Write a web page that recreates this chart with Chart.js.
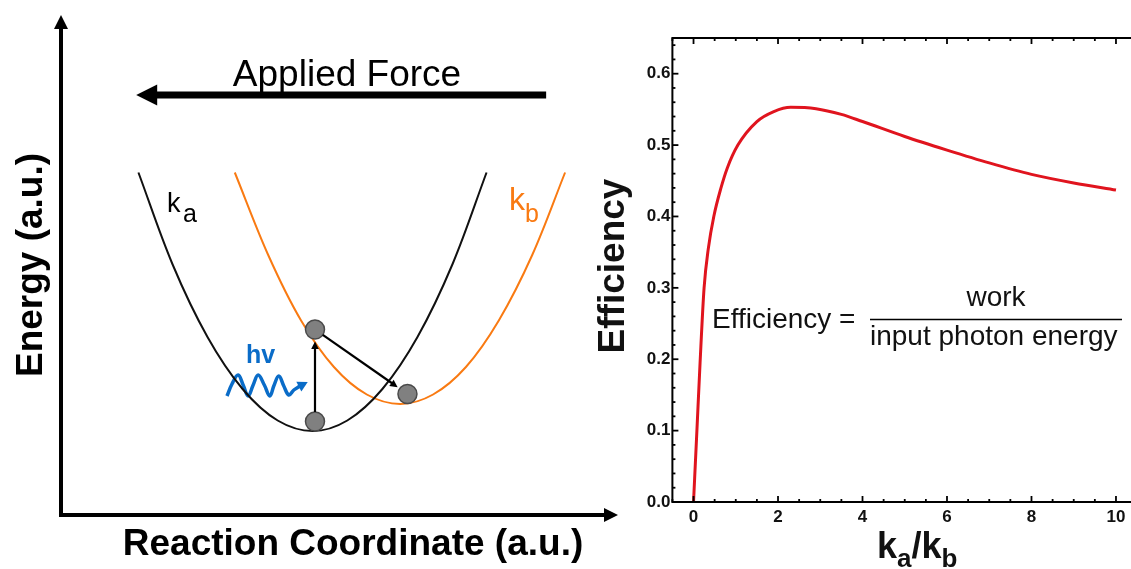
<!DOCTYPE html>
<html>
<head>
<meta charset="utf-8">
<script src="https://cdn.jsdelivr.net/npm/chart.js@4.4.1/dist/chart.umd.min.js"></script>
<style>
html,body{margin:0;padding:0;background:#fff;overflow:hidden;width:1131px;height:569px;}
#left{position:absolute;left:0;top:0;}
#right{position:absolute;left:580px;top:0;}
</style>
</head>
<body>
<canvas id="left" width="630" height="569"></canvas>
<canvas id="right" width="570" height="569"></canvas>
<script>
// ================= DATA =================
// Right panel: efficiency vs ka/kb
const ratioKaKb  = [0, 0.08, 0.155, 0.25, 0.35, 0.48, 0.65, 0.8, 1.05, 1.5, 1.9, 2.3, 2.9, 3.5, 4.0, 5.0, 6.0, 7.0, 8.0, 9.0, 10.0];
const efficiency = [0, 0.10, 0.195, 0.30, 0.355, 0.40, 0.44, 0.468, 0.50, 0.533, 0.547, 0.553, 0.551, 0.543, 0.533, 0.512, 0.493, 0.475, 0.459, 0.447, 0.437];
const xTicks = [0, 2, 4, 6, 8, 10];
const yTicks = [0, 0.1, 0.2, 0.3, 0.4, 0.5, 0.6];
const xTickLabels = ['0', '2', '4', '6', '8', '10'];
const yTickLabels = ['0.0', '0.1', '0.2', '0.3', '0.4', '0.5', '0.6'];
const xMinorStep = 0.5;
const yMinorStep = 0.02;

// Left panel (schematic, arbitrary units)
const kaX = [1.39, 2.00, 2.63, 3.26, 3.89, 4.52, 5.14, 5.77, 6.40, 7.03, 7.64];
const kaY = [6.85, 5.02, 3.56, 2.52, 1.89, 1.68, 1.89, 2.52, 3.56, 5.02, 6.85];
const kbX = [3.12, 3.72, 4.31, 4.90, 5.49, 6.09, 6.68, 7.27, 7.86, 8.46, 9.05];
const kbY = [6.85, 5.20, 3.89, 2.96, 2.41, 2.22, 2.41, 2.96, 3.89, 5.20, 6.85];
const photonX = [2.98, 3.07, 3.18, 3.27, 3.36, 3.45, 3.54, 3.65, 3.75, 3.82, 3.91, 4.00, 4.09, 4.18, 4.29, 4.43];
const photonY = [2.38, 2.62, 2.80, 2.60, 2.38, 2.60, 2.80, 2.60, 2.38, 2.58, 2.78, 2.58, 2.40, 2.50, 2.58, 2.66];
const stateX = [4.56, 4.56, 6.22];
const stateY = [1.87, 3.71, 2.42];
const transitionFrom = [0, 1];
const transitionTo   = [1, 2];
const forceArrow = { fromX: 8.71, toX: 1.35, y: 8.4 };

// ================= HELPERS =================
const FONT = '"Liberation Sans", Arial, Helvetica, sans-serif';
function pts(xs, ys) { return xs.map((x, i) => ({ x: x, y: ys[i] })); }
function arrowHead(ctx, x1, y1, x2, y2, len, half) {
  const a = Math.atan2(y2 - y1, x2 - x1);
  const c = Math.cos(a), s = Math.sin(a);
  ctx.beginPath();
  ctx.moveTo(x2, y2);
  ctx.lineTo(x2 - len * c + half * s, y2 - len * s - half * c);
  ctx.lineTo(x2 - len * c - half * s, y2 - len * s + half * c);
  ctx.closePath();
  ctx.fill();
}
function seg(ctx, x1, y1, x2, y2) {
  ctx.beginPath(); ctx.moveTo(x1, y1); ctx.lineTo(x2, y2); ctx.stroke();
}

// ================= LEFT PANEL =================
const leftDecor = {
  id: 'leftDecor',
  afterDatasetsDraw(chart) {
    const { ctx, chartArea: ca, scales: { x, y } } = chart;
    ctx.save();
    ctx.strokeStyle = '#000'; ctx.fillStyle = '#000'; ctx.lineCap = 'butt';
    // axes with arrows
    ctx.lineWidth = 4;
    seg(ctx, ca.left, ca.bottom + 2, ca.left, ca.top + 12);
    arrowHead(ctx, ca.left, ca.bottom, ca.left, ca.top, 14, 7);
    seg(ctx, ca.left - 2, ca.bottom, ca.right - 12, ca.bottom);
    arrowHead(ctx, ca.left, ca.bottom, ca.right, ca.bottom, 14, 7);
    // applied force arrow
    const fy = y.getPixelForValue(forceArrow.y);
    const fx1 = x.getPixelForValue(forceArrow.fromX);
    const fx2 = x.getPixelForValue(forceArrow.toX);
    ctx.lineWidth = 7;
    seg(ctx, fx1, fy, fx2 + 18, fy);
    arrowHead(ctx, fx1, fy, fx2, fy, 21, 10.5);
    // transitions between states
    ctx.lineWidth = 2.2;
    const r = 9.5;
    for (let k = 0; k < transitionFrom.length; k++) {
      const px = x.getPixelForValue(stateX[transitionFrom[k]]);
      const py = y.getPixelForValue(stateY[transitionFrom[k]]);
      const qx = x.getPixelForValue(stateX[transitionTo[k]]);
      const qy = y.getPixelForValue(stateY[transitionTo[k]]);
      const d = Math.hypot(qx - px, qy - py);
      const ux = (qx - px) / d, uy = (qy - py) / d;
      const sx = px + ux * r, sy = py + uy * r;
      const ex = qx - ux * (r + 2.5), ey = qy - uy * (r + 2.5);
      seg(ctx, sx, sy, ex - ux * 5, ey - uy * 5);
      arrowHead(ctx, sx, sy, ex, ey, 7.5, 3.8);
    }
    // photon arrow head
    const n = photonX.length;
    ctx.fillStyle = '#0a6cc8';
    arrowHead(ctx,
      x.getPixelForValue(photonX[n - 2]), y.getPixelForValue(photonY[n - 2]),
      x.getPixelForValue(photonX[n - 1]), y.getPixelForValue(photonY[n - 1]), 10, 5.5);
    // texts
    ctx.fillStyle = '#000';
    ctx.textBaseline = 'alphabetic';
    ctx.font = '37px ' + FONT;
    ctx.textAlign = 'center';
    ctx.fillText('Applied Force', 347, 86);
    ctx.font = 'bold 37px ' + FONT;
    ctx.fillText('Reaction Coordinate (a.u.)', 353, 555);
    ctx.save();
    ctx.translate(42, 265);
    ctx.rotate(-Math.PI / 2);
    ctx.fillText('Energy (a.u.)', 0, 0);
    ctx.restore();
    // k labels
    ctx.textAlign = 'left';
    ctx.font = '27px ' + FONT;
    ctx.fillText('k', 167, 212);
    ctx.font = '25px ' + FONT;
    ctx.fillText('a', 183, 222);
    ctx.fillStyle = '#f97a12';
    ctx.font = '32px ' + FONT;
    ctx.fillText('k', 509, 210);
    ctx.font = '25px ' + FONT;
    ctx.fillText('b', 525, 222);
    // hv
    ctx.fillStyle = '#0a6cc8';
    ctx.font = 'bold 25px ' + FONT;
    ctx.fillText('hv', 246, 363);
    ctx.restore();
  }
};

new Chart(document.getElementById('left'), {
  type: 'scatter',
  data: {
    datasets: [
      { label: 'states', data: pts(stateX, stateY), pointRadius: 9.5, pointBackgroundColor: '#808080',
        pointBorderColor: '#4a4a4a', pointBorderWidth: 1.5, showLine: false },
      { label: 'k_a', data: pts(kaX, kaY), showLine: true, borderColor: '#111', borderWidth: 2,
        pointRadius: 0, tension: 0.35, fill: false },
      { label: 'k_b', data: pts(kbX, kbY), showLine: true, borderColor: '#f97a12', borderWidth: 2,
        pointRadius: 0, tension: 0.35, fill: false },
      { label: 'hv', data: pts(photonX.slice(0, -1), photonY.slice(0, -1)), showLine: true,
        borderColor: '#0a6cc8', borderWidth: 3.5, pointRadius: 0, tension: 0.4, fill: false }
    ]
  },
  options: {
    responsive: false, animation: false, events: [],
    layout: { padding: { left: 61, top: 15, right: 12, bottom: 54 } },
    plugins: { legend: { display: false }, tooltip: { enabled: false } },
    scales: {
      x: { type: 'linear', display: false, min: 0, max: 10 },
      y: { type: 'linear', display: false, min: 0, max: 10 }
    }
  },
  plugins: [leftDecor]
});

// ================= RIGHT PANEL =================
const rightDecor = {
  id: 'rightDecor',
  afterDraw(chart) {
    const { ctx, chartArea: ca, scales: { x, y } } = chart;
    ctx.save();
    ctx.strokeStyle = '#000';
    ctx.lineWidth = 2;
    ctx.strokeRect(ca.left, ca.top, ca.right - ca.left, ca.bottom - ca.top);
    ctx.lineWidth = 1.8;
    for (let i = Math.ceil(x.min / xMinorStep); i * xMinorStep <= x.max + 1e-9; i++) {
      const v = i * xMinorStep;
      const px = x.getPixelForValue(v);
      const major = xTicks.some(t => Math.abs(t - v) < 1e-9);
      const len = major ? 6 : 3;
      seg(ctx, px, ca.bottom, px, ca.bottom - len);
      seg(ctx, px, ca.top, px, ca.top + len);
    }
    for (let j = 0; j * yMinorStep <= y.max + 1e-9; j++) {
      const v = j * yMinorStep;
      const py = y.getPixelForValue(v);
      const major = yTicks.some(t => Math.abs(t - v) < 1e-9);
      const len = major ? 6 : 3;
      seg(ctx, ca.left, py, ca.left + len, py);
      seg(ctx, ca.right, py, ca.right - len, py);
    }
    // axis titles
    ctx.fillStyle = '#111';
    ctx.textBaseline = 'alphabetic';
    ctx.font = 'bold 37px ' + FONT;
    ctx.textAlign = 'center';
    ctx.save();
    ctx.translate(44, 266);
    ctx.rotate(-Math.PI / 2);
    ctx.fillText('Efficiency', 0, 0);
    ctx.restore();
    // k_a / k_b
    ctx.textAlign = 'left';
    let cx = 297;
    const parts = [['k', 36, 0], ['a', 26, 9], ['/', 36, 0], ['k', 36, 0], ['b', 26, 9]];
    for (const [t, s, dy] of parts) {
      ctx.font = 'bold ' + s + 'px ' + FONT;
      ctx.fillText(t, cx, 558 + dy);
      cx += ctx.measureText(t).width;
    }
    // formula
    ctx.font = '28px ' + FONT;
    ctx.fillText('Efficiency =', 132, 328);
    ctx.textAlign = 'center';
    ctx.fillText('work', 416, 306);
    ctx.textAlign = 'left';
    ctx.fillText('input photon energy', 290, 345);
    ctx.lineWidth = 1.5;
    seg(ctx, 290, 319.5, 542, 319.5);
    ctx.restore();
  }
};

new Chart(document.getElementById('right'), {
  type: 'scatter',
  data: {
    datasets: [{
      label: 'Efficiency',
      data: pts(ratioKaKb, efficiency),
      showLine: true, borderColor: '#e0141e', borderWidth: 3, pointRadius: 0,
      cubicInterpolationMode: 'monotone', fill: false
    }]
  },
  options: {
    responsive: false, animation: false, events: [],
    layout: { padding: { left: 0, top: 38, right: 12.9, bottom: 0 } },
    plugins: { legend: { display: false }, tooltip: { enabled: false } },
    scales: {
      x: {
        type: 'linear', min: -0.5, max: 10.5,
        grid: { display: false, drawTicks: false }, border: { display: false },
        afterBuildTicks: (s) => { s.ticks = xTicks.map(v => ({ value: v })); },
        afterFit: (s) => { s.height = 67; },
        ticks: {
          padding: 5, color: '#111', autoSkip: false, maxRotation: 0,
          font: { family: FONT, size: 17, weight: 'bold' },
          callback: (v) => xTickLabels[xTicks.indexOf(v)] ?? ''
        }
      },
      y: {
        type: 'linear', min: 0, max: 0.65,
        grid: { display: false, drawTicks: false }, border: { display: false },
        afterBuildTicks: (s) => { s.ticks = yTicks.map(v => ({ value: v })); },
        afterFit: (s) => { s.width = 92.4; },
        ticks: {
          padding: 2, color: '#111', autoSkip: false,
          font: { family: FONT, size: 17, weight: 'bold' },
          callback: (v) => { const i = yTicks.findIndex(t => Math.abs(t - v) < 1e-9); return i >= 0 ? yTickLabels[i] : ''; }
        }
      }
    }
  },
  plugins: [rightDecor]
});
</script>
</body>
</html>
